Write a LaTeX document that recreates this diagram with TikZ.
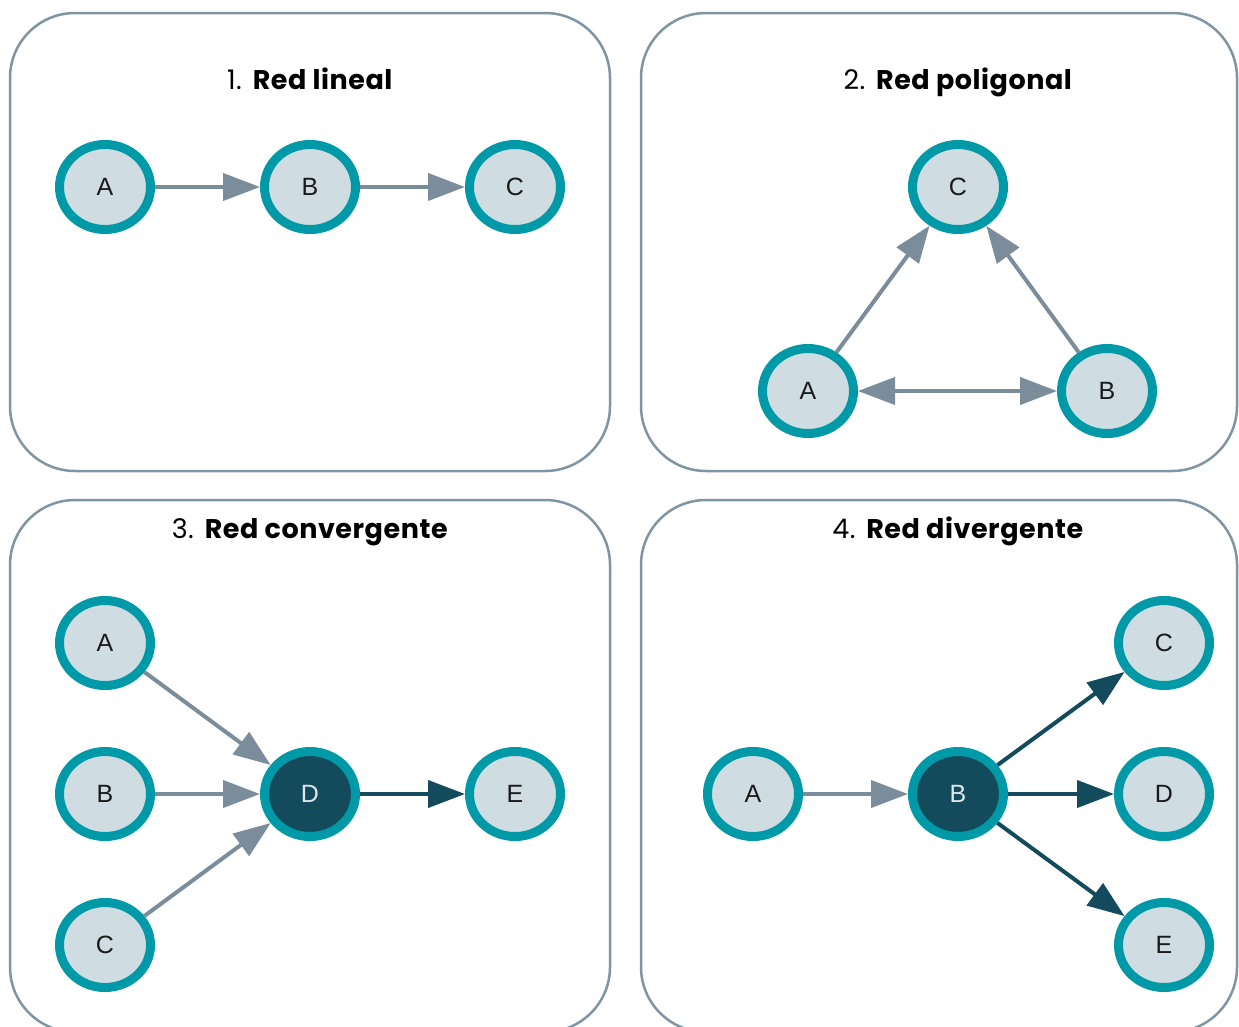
\documentclass[tikz,border=0pt]{standalone}
\usepackage{fontspec}
\setmainfont{Liberation Sans}
\newfontfamily\titlefont{Poppins}[LetterSpace=2]
\usetikzlibrary{shapes.geometric,arrows.meta}
\definecolor{ring}{HTML}{0099A8}
\definecolor{inner}{HTML}{CFDCE1}
\definecolor{hubc}{HTML}{134B5C}
\definecolor{edgeg}{HTML}{7B8D9B}
\definecolor{edged}{HTML}{134B5C}
\definecolor{panelc}{HTML}{7F95A4}
\definecolor{txt}{HTML}{1A1A1A}
\definecolor{hubtxt}{HTML}{DDE6EA}
\begin{document}
\begin{tikzpicture}[x=1pt,y=-1pt,
  nd/.style={ellipse, draw=ring, line width=9pt, fill=inner, minimum width=91pt, minimum height=85pt, inner sep=0pt, font=\fontsize{25}{25}\selectfont, text=txt},
  hub/.style={nd, fill=hubc, text=hubtxt},
  ge/.style={draw=edgeg, line width=4pt, -{Triangle[length=37pt,width=27pt]}},
  de/.style={ge, draw=edged},
  panel/.style={draw=panelc, line width=2.5pt, rounded corners=65pt},
  ttl/.style={anchor=base, font=\titlefont\fontsize{27}{27}\selectfont, text=black}]
\useasboundingbox (0,0) rectangle (1239,1026);
\fill[white] (0,0) rectangle (1239,1026);
\clip (0,0) rectangle (1239,1026);

% panels
\draw[panel] (10,13) rectangle (610,471);
\draw[panel] (641,13) rectangle (1237,471);
\draw[panel] (10,500) rectangle (610,1032);
\draw[panel] (641,500) rectangle (1237,1032);

% titles
\node[ttl] (t1) at (310,89) {1. \textbf{Red lineal}};
\node[ttl] (t2) at (958,89) {2. \textbf{Red poligonal}};
\node[ttl] (t3) at (310,538) {3. \textbf{Red convergente}};
\node[ttl] (t4) at (958,538) {4. \textbf{Red divergente}};

% panel 1
\node[nd] (a1) at (105,187) {A};
\node[nd] (b1) at (310,187) {B};
\node[nd] (c1) at (515,187) {C};
\draw[ge] (a1) -- (b1);
\draw[ge] (b1) -- (c1);

% panel 2
\node[nd] (c2) at (958,187) {C};
\node[nd] (a2) at (808,391) {A};
\node[nd] (b2) at (1107,391) {B};
\draw[ge] (a2) -- (c2);
\draw[ge] (b2) -- (c2);
\draw[ge, {Triangle[length=37pt,width=27pt]}-{Triangle[length=37pt,width=27pt]}] (a2) -- (b2);

% panel 3
\node[nd] (a3) at (105,643) {A};
\node[nd] (b3) at (105,794) {B};
\node[nd] (c3) at (105,945) {C};
\node[hub] (d3) at (310,794) {D};
\node[nd] (e3) at (515,794) {E};
\draw[ge] (a3) -- (d3);
\draw[ge] (b3) -- (d3);
\draw[ge] (c3) -- (d3);
\draw[de] (d3) -- (e3);

% panel 4
\node[nd] (a4) at (753,794) {A};
\node[hub] (b4) at (958,794) {B};
\node[nd] (c4) at (1164,643) {C};
\node[nd] (d4) at (1164,794) {D};
\node[nd] (e4) at (1164,945) {E};
\draw[ge] (a4) -- (b4);
\draw[de] (b4) -- (c4);
\draw[de] (b4) -- (d4);
\draw[de] (b4) -- (e4);
\end{tikzpicture}
\end{document}
